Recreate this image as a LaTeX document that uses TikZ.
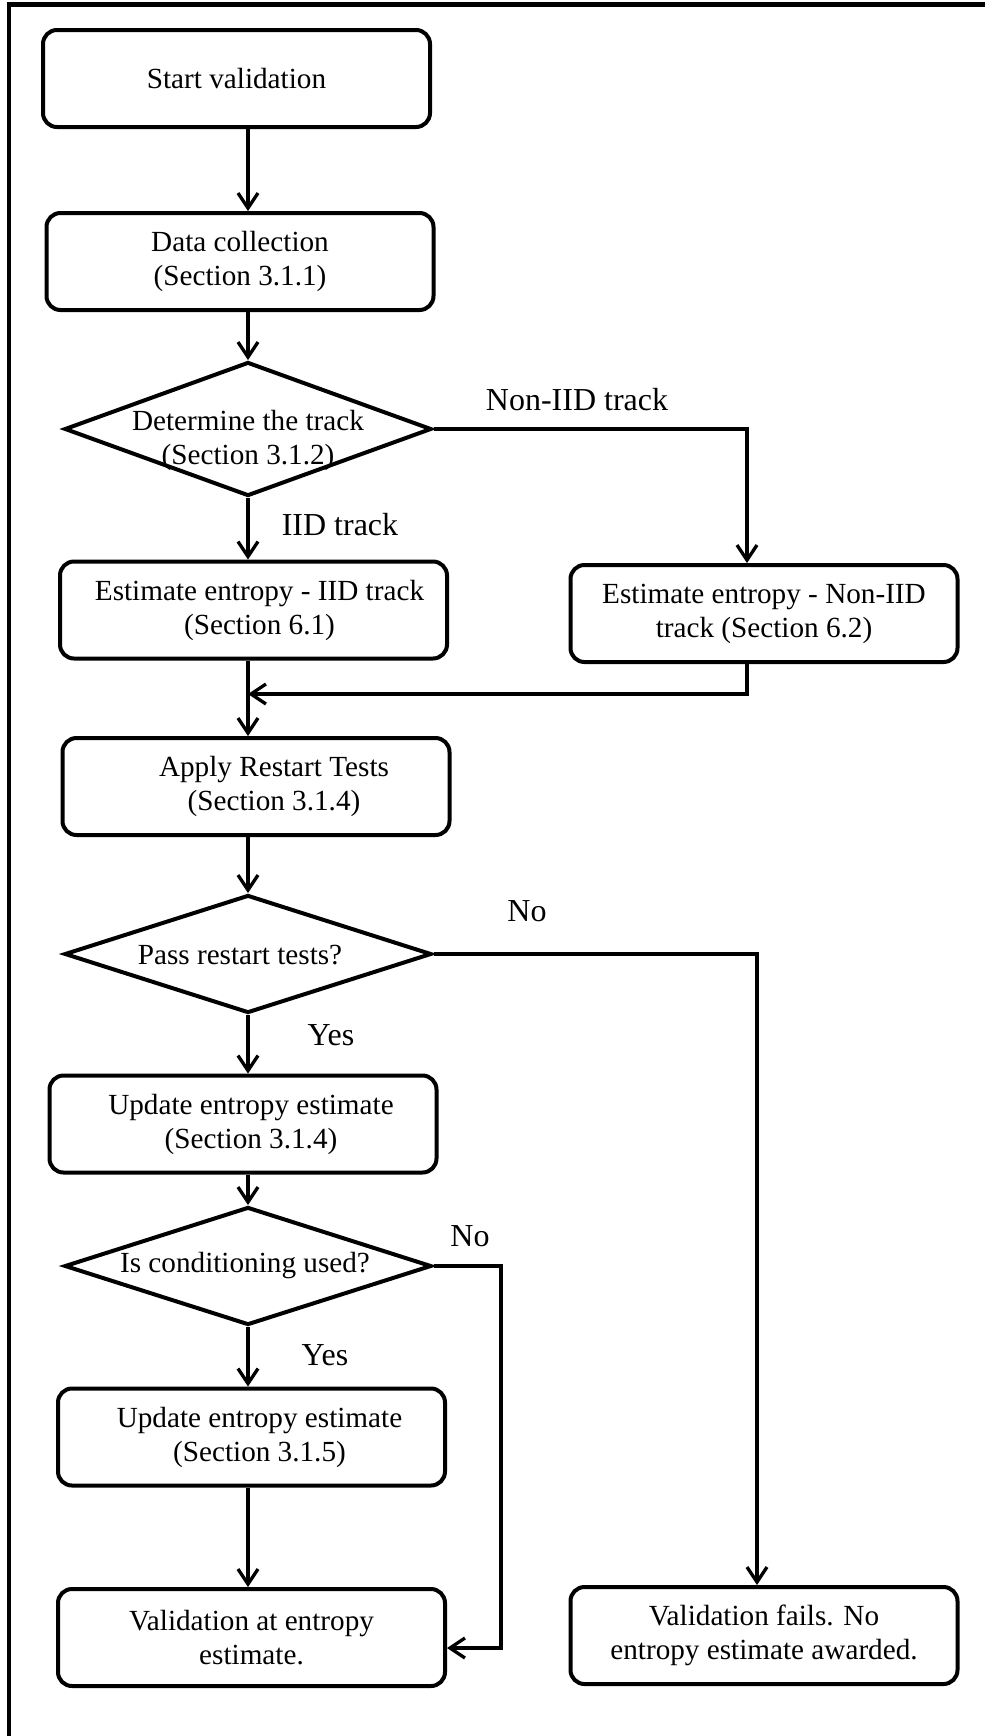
\documentclass[tikz,border=0pt]{standalone}
\usepackage{fontspec}
\setmainfont{Liberation Serif}
\usetikzlibrary{arrows.meta,shapes.geometric}
\newcommand{\dtext}[3]{\raisebox{#1}[0pt][0pt]{\makebox[0pt]{\hspace*{#2}\begin{tabular}{@{}c@{}}#3\end{tabular}}}}

\begin{document}
\begin{tikzpicture}[x=0.5pt,y=-0.5pt,
		>={Straight Barb[length=7.5pt,width=10pt]},
		txt/.style={font=\fontsize{14.6}{17}\selectfont},
		lbl/.style={font=\fontsize{16}{19}\selectfont},
		box/.style={txt,draw,line width=2pt,rounded corners=7pt,align=center,minimum width=193.5pt,minimum height=48.5pt,inner sep=0pt},
		dec/.style={txt,draw,line width=2pt,diamond,inner sep=0pt,minimum width=183.5pt,minimum height=59pt},
		arr/.style={->,line width=1.65pt}]
		\useasboundingbox (0,0) rectangle (985,1736);
		\draw[line width=2.4pt] (985,4.5) -- (9,4.5) -- (9,1736);
		\coordinate (trunk) at (248,0);
		\coordinate (nicol) at (747,0);
		\coordinate (fcol) at (757,0);
		\coordinate (merge) at (248,694);
		\coordinate (ccol) at (501,1648);
		\node[box] (start) at (236.5,78.5) {Start validation};
		\node[box] (data) at (240,261.5) {Data collection\\(Section 3.1.1)};
		\node[dec,minimum height=67pt] (track) at (248,429) {\dtext{-9.6pt}{0pt}{Determine the track\\(Section 3.1.2)}};
		\node[box] (iid) at (253.5,610) {\hspace*{6pt}Estimate entropy - IID track\\\hspace*{6pt}(Section 6.1)};
		\node[box] (noniid) at (764,613.5) {Estimate entropy - Non-IID\\track (Section 6.2)};
		\node[box] (restart) at (256,786.5) {\hspace*{18pt}Apply Restart Tests\\\hspace*{18pt}(Section 3.1.4)};
		\node[dec] (pass) at (248,954) {\dtext{-5.6pt}{-8pt}{Pass restart tests?}};
		\node[box] (upd1) at (243,1124) {\hspace*{8pt}Update entropy estimate\\\hspace*{8pt}(Section 3.1.4)};
		\node[dec] (cond) at (248,1266) {\dtext{-3.6pt}{-3pt}{Is conditioning used?}};
		\node[box] (upd2) at (251.5,1437) {\hspace*{8pt}Update entropy estimate\\\hspace*{8pt}(Section 3.1.5)};
		\node[box] (valid) at (251.5,1637.5) {Validation at entropy\\estimate.};
		\node[box] (fails) at (764,1635.5) {Validation fails. No\\entropy estimate awarded.};
		\node[lbl] (lnoniid) at (577,400) {Non-IID track};
		\node[lbl] (liid) at (340,525) {IID track};
		\node[lbl] (lpassno) at (527,911) {No};
		\node[lbl] (lpassyes) at (331,1035) {Yes};
		\node[lbl] (lcondno) at (470,1236) {No};
		\node[lbl] (lcondyes) at (325,1355) {Yes};
		\draw[arr] (start.south -| trunk) -- (data.north -| trunk);
		\draw[arr] (data.south -| trunk) -- (track.north);
		\draw[arr] (track.south) -- (iid.north -| trunk);
		\draw[arr] (track.east) -| (noniid.north -| nicol);
		\draw[arr] (iid.south -| trunk) -- (restart.north -| trunk);
		\draw[arr] (noniid.south -| nicol) |- (merge);
		\draw[arr] (restart.south -| trunk) -- (pass.north);
		\draw[arr] (pass.east) -| (fails.north -| fcol);
		\draw[arr] (pass.south) -- (upd1.north -| trunk);
		\draw[arr] (upd1.south -| trunk) -- (cond.north);
		\draw[arr] (cond.south) -- (upd2.north -| trunk);
		\draw[arr] (cond.east) -| (ccol) -- (valid.east |- ccol);
		\draw[arr] (upd2.south -| trunk) -- (valid.north -| trunk);
	\end{tikzpicture}
\end{document}
